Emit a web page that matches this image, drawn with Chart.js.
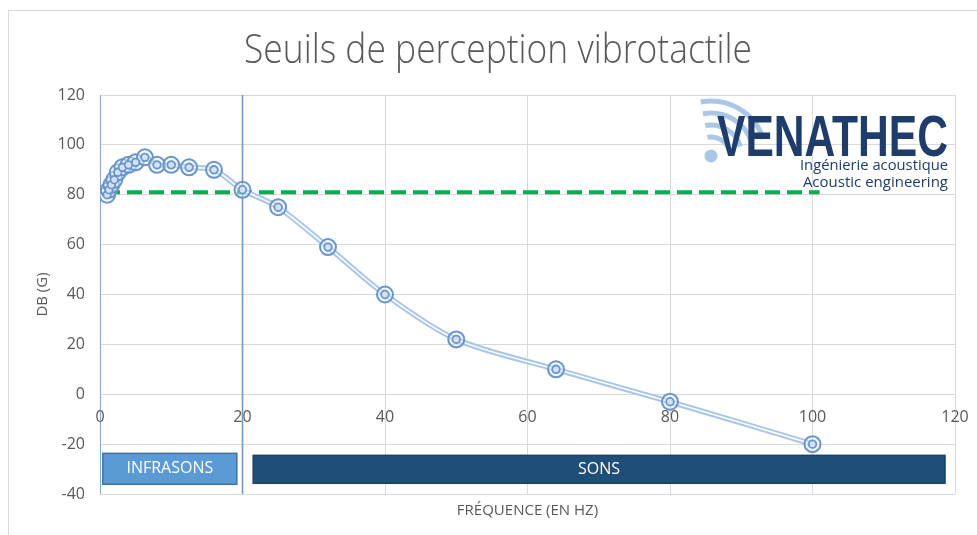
<!DOCTYPE html>
<html><head><meta charset="utf-8">
<script src="https://cdn.jsdelivr.net/npm/chart.js@4.4.1/dist/chart.umd.min.js"></script>
<style>html,body{margin:0;padding:0;background:#fff;}#wrap{width:977px;height:535px;position:relative;}</style>
</head><body><div id="wrap"><canvas id="c" width="977" height="535"></canvas></div>
<script>
// ---- data ----
const chartTitle = 'Seuils de perception vibrotactile';
const frequencies = [1, 1.25, 1.6, 2, 2.5, 3.15, 4, 5, 6.3, 8, 10, 12.5, 16, 20, 25, 32, 40, 50, 64, 80, 100];
const thresholds  = [80, 82, 84, 86, 89, 91, 92, 93, 95, 92, 92, 91, 90, 82, 75, 59, 40, 22, 10, -3, -20];
const boundaryFreqs = [0, 20];
const boundaryRange = [-40, 120];
const referenceLevel = 81;
const referenceRange = [0.7, 101];
const bandLabels = ['INFRASONS', 'SONS'];
const bandFrom = [0.4, 21.5];
const bandTo = [19.2, 118.6];
const xRange = [0, 120];
const yRange = [-40, 120];
const tickStep = 20;

const curve = frequencies.map((f, i) => ({x: f, y: thresholds[i]}));
const GRAY = '#595959';

const datasets = [];
boundaryFreqs.forEach(f => datasets.push({
  data: [{x: f, y: boundaryRange[0]}, {x: f, y: boundaryRange[1]}],
  showLine: true, borderColor: '#6f9ad0', borderWidth: 1.6, pointRadius: 0, order: 6
}));
datasets.push({
  data: [{x: referenceRange[0], y: referenceLevel}, {x: referenceRange[1], y: referenceLevel}],
  showLine: true, borderColor: '#00b050', borderWidth: 4, borderDash: [15, 7], pointRadius: 0, order: 5
});
datasets.push({data: curve, showLine: true, borderColor: '#a9c6e8', borderWidth: 5.5, tension: 0.3, pointRadius: 0, order: 4});
datasets.push({data: curve, showLine: true, borderColor: '#ffffff', borderWidth: 1.6, tension: 0.3, pointRadius: 0, order: 3});
datasets.push({data: curve, showLine: false, pointRadius: 8, pointBorderWidth: 2, pointBorderColor: '#6a95cb', pointBackgroundColor: 'rgba(230,239,250,0.45)', order: 2});
datasets.push({data: curve, showLine: false, pointRadius: 3.8, pointBorderWidth: 1.8, pointBorderColor: '#6a95cb', pointBackgroundColor: '#d3e2f3', order: 1});

const framePlugin = {
  id: 'frame',
  beforeDraw(chart) {
    const ctx = chart.ctx;
    ctx.save();
    ctx.fillStyle = '#fff';
    ctx.fillRect(0, 0, chart.width, chart.height);
    ctx.strokeStyle = '#d9d9d9';
    ctx.lineWidth = 1;
    ctx.strokeRect(8.5, 10.5, 2000, 2000);
    ctx.fillStyle = GRAY;
    ctx.font = '300 40px "Open Sans"';
    ctx.textAlign = 'center';
    ctx.textBaseline = 'alphabetic';
    ctx.fillText(chartTitle, 498, 63, 508);
    ctx.restore();
  }
};

const bandPlugin = {
  id: 'bands',
  afterDatasetsDraw(chart, args, opts) {
    const {ctx, scales: {x, y}} = chart;
    ctx.save();
    bandLabels.forEach((lab, i) => {
      const x1 = x.getPixelForValue(bandFrom[i]);
      const x2 = x.getPixelForValue(bandTo[i]);
      const y1 = y.getPixelForValue(opts.tops[i]);
      const y2 = y.getPixelForValue(opts.bottoms[i]);
      ctx.fillStyle = opts.fills[i];
      ctx.fillRect(x1, y1, x2 - x1, y2 - y1);
      ctx.strokeStyle = opts.strokes[i];
      ctx.lineWidth = 1.5;
      ctx.strokeRect(x1, y1, x2 - x1, y2 - y1);
      ctx.fillStyle = '#ffffff';
      ctx.font = '16px "Open Sans"';
      ctx.textAlign = 'center';
      ctx.textBaseline = 'middle';
      ctx.fillText(lab, (x1 + x2) / 2, (y1 + y2) / 2, (x2 - x1) - 8);
    });
    ctx.restore();
  }
};

const logoPlugin = {
  id: 'logo',
  afterDraw(chart) {
    const ctx = chart.ctx;
    ctx.save();
    const cx = 711, cy = 156;
    ctx.strokeStyle = '#a9c8e8';
    ctx.lineWidth = 5;
    [19, 31, 43, 55].forEach(r => {
      ctx.beginPath();
      ctx.arc(cx, cy, r, -Math.PI * 0.56, -Math.PI * 0.1);
      ctx.stroke();
    });
    ctx.fillStyle = '#a9c8e8';
    ctx.beginPath();
    ctx.arc(cx, cy, 6.5, 0, Math.PI * 2);
    ctx.fill();
    ctx.fillStyle = '#1e3d6b';
    ctx.font = 'bold 58px "Liberation Sans"';
    ctx.textAlign = 'left';
    ctx.textBaseline = 'alphabetic';
    ctx.fillText('VENATHEC', 717, 156, 231);
    ctx.font = '15px "Open Sans"';
    ctx.textAlign = 'right';
    ctx.fillText('Ingénierie acoustique', 948, 170, 148);
    ctx.fillText('Acoustic engineering', 948, 187, 151);
    ctx.restore();
  }
};

new Chart(document.getElementById('c'), {
  type: 'scatter',
  data: {datasets},
  plugins: [framePlugin, bandPlugin, logoPlugin],
  options: {
    responsive: false,
    animation: false,
    devicePixelRatio: 1,
    layout: {padding: {left: 0, right: 22, top: 95, bottom: 0}},
    plugins: {
      legend: {display: false},
      tooltip: {enabled: false},
      title: {display: false},
      bands: {
        tops: [-23.7, -24.5],
        bottoms: [-36.1, -35.7],
        fills: ['#5b9bd5', '#1f4e79'],
        strokes: ['#41719c', '#1a4268']
      }
    },
    scales: {
      x: {
        type: 'linear',
        position: {y: 0},
        min: xRange[0], max: xRange[1],
        grid: {color: '#d9d9d9', drawTicks: false},
        border: {color: '#d9d9d9'},
        ticks: {stepSize: tickStep, color: GRAY, font: {family: '"Open Sans"', size: 16}, padding: 14},
        afterFit(s) { s.paddingLeft = 0; s.paddingRight = 0; }
      },
      x2: {
        type: 'linear',
        position: 'bottom',
        min: xRange[0], max: xRange[1],
        grid: {display: false, drawTicks: false},
        border: {display: false},
        ticks: {display: false},
        title: {display: true, text: 'FRÉQUENCE (EN HZ)', color: GRAY, font: {family: '"Open Sans"', size: 15}, padding: {top: 0, bottom: 15}},
        afterFit(s) { s.height = 41; s.paddingLeft = 0; s.paddingRight = 0; }
      },
      y: {
        type: 'linear',
        min: yRange[0], max: yRange[1],
        grid: {color: '#d9d9d9', drawTicks: false},
        border: {display: false},
        ticks: {stepSize: tickStep, color: GRAY, font: {family: '"Open Sans"', size: 16}, padding: 15},
        title: {display: true, text: 'DB (G)', color: GRAY, font: {family: '"Open Sans"', size: 15}, padding: {top: 34, bottom: 0}},
        afterFit(s) { s.width = 100; }
      }
    }
  }
});
</script></body></html>
